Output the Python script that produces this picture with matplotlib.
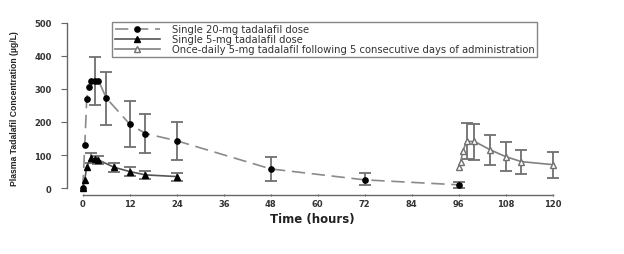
import matplotlib
matplotlib.use('Agg')
import matplotlib.pyplot as plt

plt.rcParams['font.family'] = ['DejaVu Sans']

# Single 20-mg dose
t20 = [0, 0.5, 1, 1.5, 2, 3, 4, 6, 12, 16, 24, 48, 72, 96]
c20 = [0, 130, 270, 305, 325, 325, 325, 272, 193, 165, 143, 58, 25, 10]
lo20 = [0, 0, 0, 0, 0, 73, 0, 82, 70, 60, 58, 36, 17, 10]
hi20 = [0, 0, 0, 0, 0, 70, 0, 80, 70, 58, 57, 35, 20, 10]

# Single 5-mg dose
t5 = [0, 0.5, 1, 2, 3, 4, 8, 12, 16, 24]
c5 = [0, 25, 65, 90, 88, 85, 63, 50, 40, 35]
lo5 = [0, 0, 0, 15, 0, 13, 13, 13, 12, 13]
hi5 = [0, 0, 0, 15, 0, 12, 14, 13, 13, 12]

# Once-daily 5-mg, day 5
tqd = [96, 96.5, 97, 98, 100, 104, 108, 112, 120]
cqd = [63, 80, 111, 141, 141, 116, 95, 80, 71]
loqd = [0, 0, 0, 53, 55, 45, 42, 37, 40]
hiqd = [0, 0, 0, 56, 53, 46, 44, 36, 38]

labels = ['Single 20-mg tadalafil dose',
          'Single 5-mg tadalafil dose',
          'Once-daily 5-mg tadalafil following 5 consecutive days of administration']

fig = plt.figure(figsize=(6.24, 2.55), dpi=100)
ax = fig.add_axes([0.107, 0.231, 0.787, 0.683])

ecol = '#6f6f6f'


def draw_err(t, c, lo, hi):
    # only points that actually have error bars
    idx = [i for i in range(len(t)) if lo[i] > 0 or hi[i] > 0]
    ax.errorbar([t[i] for i in idx], [c[i] for i in idx],
                yerr=[[lo[i] for i in idx], [hi[i] for i in idx]],
                fmt='none', ecolor=ecol, elinewidth=1.3, capsize=4, capthick=1.3, zorder=2)


draw_err(t20, c20, lo20, hi20)
draw_err(t5, c5, lo5, hi5)
draw_err(tqd, cqd, loqd, hiqd)

ax.plot(t20, c20, color='#8a8a8a', linestyle=(0, (8, 4)), linewidth=1.2,
        marker='o', markersize=3.8, markerfacecolor='black', markeredgecolor='black',
        label=labels[0], zorder=3)
ax.plot(t5, c5, color='#555555', linestyle='-', linewidth=1.2,
        marker='^', markersize=3.8, markerfacecolor='black', markeredgecolor='black',
        label=labels[1], zorder=3)
ax.plot(tqd, cqd, color='#808080', linestyle='-', linewidth=1.2,
        marker='^', markersize=3.8, markerfacecolor='white', markeredgecolor='#707070',
        label=labels[2], zorder=3)

ax.set_xlim(-4.1, 121.3)
ax.set_ylim(-21, 505)
ax.spines['top'].set_visible(False)
ax.spines['right'].set_visible(False)
ax.spines['left'].set_bounds(0, 500)
ax.spines['bottom'].set_bounds(0, 120)
for s in ['left', 'bottom']:
    ax.spines[s].set_color('#666666')
    ax.spines[s].set_linewidth(1.0)

ax.set_xticks(range(0, 121, 12))
ax.set_yticks(range(0, 501, 100))
ax.tick_params(axis='y', length=4, color='#666666', labelsize=6,
               labelcolor='#333333', pad=7)
ax.tick_params(axis='x', length=2, direction='inout', color='#666666', labelsize=6,
               labelcolor='#333333', pad=2)
for lab in ax.get_xticklabels() + ax.get_yticklabels():
    lab.set_fontweight('bold')

ax.set_xlabel('Time (hours)', fontsize=8.5, fontweight='bold', color='#222222', labelpad=3)
ax.set_ylabel('Plasma Tadalafil Concentration (µg/L)', fontsize=6.2, fontweight='bold',
              family='Liberation Sans', color='#222222', labelpad=11)

leg = ax.legend(loc='upper left', bbox_to_anchor=(0.093, 0.995), fontsize=7.2,
                frameon=True, fancybox=False, edgecolor='#666666',
                labelspacing=0.0, handlelength=4.5, borderpad=0.25, handletextpad=1.2,
                borderaxespad=0)
leg.get_frame().set_linewidth(1.0)
for txt in leg.get_texts():
    txt.set_color('#333333')

fig.savefig('out.png', dpi=100)
